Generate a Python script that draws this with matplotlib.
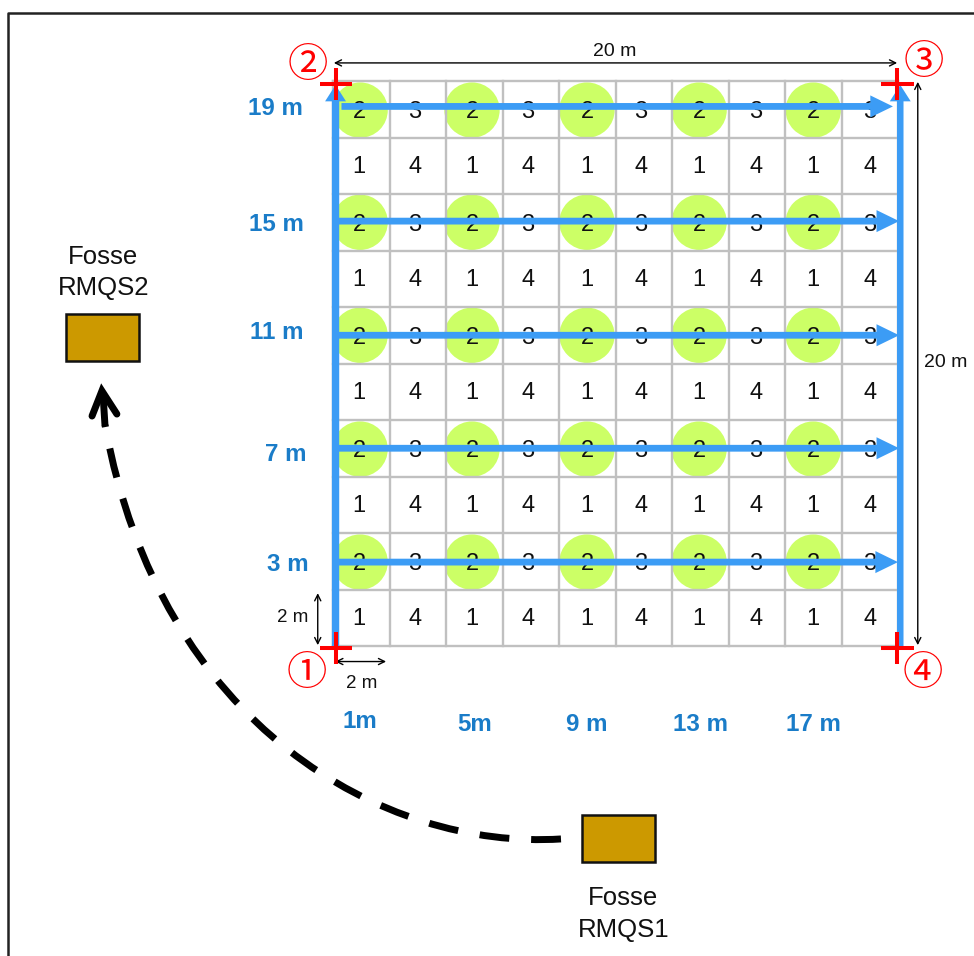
import numpy as np
import matplotlib
matplotlib.use('Agg')
import matplotlib.pyplot as plt
from matplotlib.patches import Circle, Rectangle, PathPatch
from matplotlib.path import Path

# everything is in metres on the plot, origin at the corner marked 1
PX = 28.25
X0 = 333.0
Y0 = 646.0

GRID_EDGES = list(range(0, 21, 2))
COL_X = [0.92, 2.90, 4.92, 6.90, 9.00, 10.90, 12.96, 14.96, 17.00, 19.00]
CIRCLE_X = [0.96, 4.92, 8.99, 12.96, 17.00]
CIRCLE_Y = [2.97, 6.97, 11.0, 15.0, 18.97]
ROW_LOW_Y = [0.96, 4.96, 8.96, 12.96, 16.96]
ROW_HIGH_Y = [2.9, 6.9, 10.9, 14.9, 18.9]
LOW_LABELS = ['1', '4']
HIGH_LABELS = ['2', '3']
ROW_NAMES = ['3 m', '7 m', '11 m', '15 m', '19 m']
ROW_NAME_Y = [2.88, 6.78, 11.1, 14.92, 19.03]
ROW_NAME_X = [-1.6, -1.66, -2.0, -2.0, -2.05]
COL_NAMES = ['1m', '5m', '9 m', '13 m', '17 m']
COL_NAME_X = [0.95, 5.0, 9.0, 13.0, 17.0]
COL_NAME_Y = [-2.69, -2.77, -2.77, -2.77, -2.77]
LINE_Y = [2.97, 7.0, 11.0, 15.04, 19.1]
LINE_START = [0.1, 0.1, 0.1, 0.1, 0.3]
LINE_END = [20.0, 20.04, 20.04, 20.04, 19.82]
SIDE_X = [0.09, 20.08]
SIDE_TOP = 19.86
CROSSES_X = [0.1, 0.1, 19.98, 19.98]
CROSSES_Y = [-0.07, 19.9, 19.9, -0.07]
MARK_LABELS = ['\u2460', '\u2461', '\u2462', '\u2463']
MARK_X = [-0.92, -0.88, 20.92, 20.89]
MARK_Y = [-0.99, 20.56, 20.65, -0.99]
PIT_LEFT = [8.81, -9.46]
PIT_BOTTOM = [-7.65, 10.08]
PIT_W = 2.58
PIT_H = 1.66
PIT_NAMES = ['Fosse\nRMQS1', 'Fosse\nRMQS2']
PIT_NAME_X = [10.28, -8.13]
PIT_NAME_Y = [-9.5, 13.22]
CURVE_X = [8.07, 1.84, -6.12, -8.07]
CURVE_Y = [-6.83, -7.22, -2.87, 7.82]
HEAD_X = [-8.53, -8.18, -7.65]
HEAD_Y = [8.14, 9.03, 8.21]
SHAFT_X = [-8.07, -8.14]
SHAFT_Y = [7.79, 8.9]


def main():
    plt.rcParams['font.family'] = ['Liberation Sans', 'DejaVu Sans']
    fig = plt.figure(figsize=(9.74, 9.56), dpi=100)
    ax = fig.add_axes([0, 0, 1, 1])
    ax.set_xlim(-X0 / PX, (974 - X0) / PX)
    ax.set_ylim((Y0 - 956) / PX, Y0 / PX)
    ax.axis('off')

    # image frame, only left and top are inside the picture
    left = (8 - X0) / PX
    top = (Y0 - 12.5) / PX
    ax.plot([left, left, 30], [-20, top, top], color='#222222', lw=1.8, zorder=1)

    for cx in CIRCLE_X:
        for cy in CIRCLE_Y:
            ax.add_patch(Circle((cx, cy), 0.98, fc='#ccff66', ec='none', zorder=1))

    for e in GRID_EDGES:
        ax.plot([e, e], [0, 20], color='#c0c0c0', lw=1.7, zorder=2)
        ax.plot([0, 20], [e, e], color='#c0c0c0', lw=1.7, zorder=2)

    for i, x in enumerate(COL_X):
        for y in ROW_LOW_Y:
            ax.text(x, y, LOW_LABELS[i % 2], ha='center', va='center', fontsize=17, color='#111111', zorder=3)
        for y in ROW_HIGH_Y:
            ax.text(x, y, HIGH_LABELS[i % 2], ha='center', va='center', fontsize=17, color='#111111', zorder=3)

    blue = '#3c9cf5'
    for y, start, end in zip(LINE_Y, LINE_START, LINE_END):
        ax.arrow(start, y, end - start, 0, width=0.24, head_width=0.78, head_length=0.8,
                 length_includes_head=True, fc=blue, ec='none', zorder=4)
    ax.arrow(SIDE_X[0], 0, 0, SIDE_TOP, width=0.26, head_width=0.74, head_length=0.58,
             length_includes_head=True, fc=blue, ec='none', zorder=4)
    ax.arrow(SIDE_X[1], 0, 0, SIDE_TOP, width=0.23, head_width=0.74, head_length=0.58,
             length_includes_head=True, fc=blue, ec='none', zorder=4)

    for x, y in zip(CROSSES_X, CROSSES_Y):
        ax.plot([x - 0.57, x + 0.57], [y, y], color='#ff0000', lw=2.9, solid_capstyle='butt', zorder=5)
        ax.plot([x, x], [y - 0.57, y + 0.57], color='#ff0000', lw=2.9, solid_capstyle='butt', zorder=5)

    for lab, x, y in zip(MARK_LABELS, MARK_X, MARK_Y):
        ax.text(x, y, lab, ha='center', va='center', fontsize=29, color='#ff0000',
                family='Noto Sans CJK JP', zorder=5)

    # dimension arrows
    dims = [((0.03, 20.64), (19.97, 20.64)), ((20.7, 0.03), (20.7, 19.97)),
            ((-0.54, 0.03), (-0.54, 1.87)), ((0.08, -0.55), (1.88, -0.55))]
    for a, b in dims:
        ax.annotate('', xy=a, xytext=b, zorder=3,
                    arrowprops=dict(arrowstyle='<->', color='black', lw=1.0, shrinkA=0, shrinkB=0, mutation_scale=11))
    ax.text(9.98, 21.05, '20 m', ha='center', va='center', fontsize=14, color='#111111')
    ax.text(21.7, 10.05, '20 m', ha='center', va='center', fontsize=14, color='#111111')
    ax.text(-1.43, 1.0, '2 m', ha='center', va='center', fontsize=13.5, color='#111111')
    ax.text(1.03, -1.32, '2 m', ha='center', va='center', fontsize=13.5, color='#111111')

    for lab, x, y in zip(ROW_NAMES, ROW_NAME_X, ROW_NAME_Y):
        ax.text(x, y, lab, ha='center', va='center', fontsize=17.4, fontweight='bold', color='#1a7cc8')
    for lab, x, y in zip(COL_NAMES, COL_NAME_X, COL_NAME_Y):
        ax.text(x, y, lab, ha='center', va='center', fontsize=17.4, fontweight='bold', color='#1a7cc8')

    for x, y in zip(PIT_LEFT, PIT_BOTTOM):
        ax.add_patch(Rectangle((x, y), PIT_W, PIT_H, fc='#cc9900', ec='#111111', lw=1.8, zorder=3))
    for lab, x, y in zip(PIT_NAMES, PIT_NAME_X, PIT_NAME_Y):
        ax.text(x, y, lab, ha='center', va='center', fontsize=18.5, color='#111111', linespacing=1.41)

    # dashed way from pit 1 to pit 2
    verts = np.column_stack([CURVE_X, CURVE_Y])
    path = Path(verts, [Path.MOVETO, Path.CURVE4, Path.CURVE4, Path.CURVE4])
    ax.add_patch(PathPatch(path, fc='none', ec='black', lw=5, linestyle=(0, (4.3, 3.15)), capstyle='butt', zorder=3))
    ax.plot(HEAD_X, HEAD_Y, color='black', lw=5, solid_capstyle='round', solid_joinstyle='miter', zorder=3)
    ax.plot(SHAFT_X, SHAFT_Y, color='black', lw=5, solid_capstyle='butt', zorder=3)

    fig.savefig('out.png', dpi=100)


if __name__ == '__main__':
    main()
